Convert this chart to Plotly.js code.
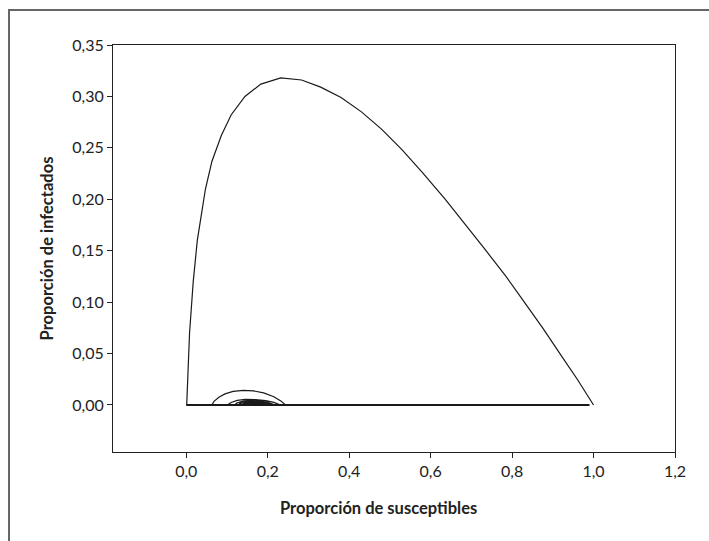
<!DOCTYPE html>
<html>
<head>
<meta charset="utf-8">
<script src="https://cdn.plot.ly/plotly-3.0.1.min.js"></script>
<style>
  html, body { margin: 0; padding: 0; background: #fff; }
  #wrap { position: relative; width: 709px; height: 541px; }
  #chart { width: 709px; height: 541px; }
  #frame { position: absolute; left: 8px; top: 9px; width: 720px; height: 560px;
           border-top: 2px solid #666; border-left: 2px solid #666; pointer-events: none; }
</style>
</head>
<body>
<div id="wrap">
  <div id="chart"></div>
  <div id="frame"></div>
</div>
<script>
// Trajectory: proportion of susceptibles (S) vs proportion of infected (I)
var mainS = [1.000, 0.960, 0.919, 0.875, 0.830, 0.785, 0.736, 0.687, 0.636, 0.580, 0.530, 0.480, 0.430, 0.380, 0.330, 0.283, 0.232, 0.183, 0.144, 0.110, 0.086, 0.063, 0.047, 0.027, 0.017, 0.008, 0.003, 0.001];
var mainI = [0.000, 0.025, 0.049, 0.075, 0.100, 0.125, 0.150, 0.175, 0.200, 0.226, 0.248, 0.268, 0.285, 0.299, 0.309, 0.316, 0.318, 0.312, 0.300, 0.282, 0.262, 0.237, 0.210, 0.160, 0.120, 0.070, 0.030, 0.000];

// Damped oscillations near the endemic equilibrium
var loopS = [0.001, 0.243, 0.232, 0.215, 0.190, 0.165, 0.140, 0.115, 0.095, 0.080, 0.068, 0.063, 0.063,
             0.230, 0.215, 0.195, 0.170, 0.145, 0.125, 0.110, 0.103, 0.102,
             0.215, 0.200, 0.180, 0.160, 0.140, 0.125, 0.120,
             0.205, 0.190, 0.170, 0.150, 0.135, 0.130,
             0.195, 0.180, 0.160, 0.145, 0.140,
             0.185, 0.170, 0.155, 0.150, 0.160, 0.175, 0.170, 0.162];
var loopI = [0.000, 0.0003, 0.0040, 0.0080, 0.0118, 0.0137, 0.0142, 0.0132, 0.0108, 0.0075, 0.0035, 0.0008, 0.0002,
             0.0003, 0.0025, 0.0043, 0.0053, 0.0055, 0.0045, 0.0025, 0.0008, 0.0002,
             0.0004, 0.0025, 0.0038, 0.0042, 0.0038, 0.0022, 0.0006,
             0.0008, 0.0028, 0.0036, 0.0035, 0.0025, 0.0012,
             0.0015, 0.0030, 0.0033, 0.0028, 0.0018,
             0.0020, 0.0030, 0.0029, 0.0022, 0.0020, 0.0024, 0.0027, 0.0026];

// Baseline segment at I = 0
var baseS = [0.0, 0.99];
var baseI = [0.0, 0.0];

var xTicks = [0.0, 0.2, 0.4, 0.6, 0.8, 1.0, 1.2];
var xTickText = ['0,0', '0,2', '0,4', '0,6', '0,8', '1,0', '1,2'];
var yTicks = [0.00, 0.05, 0.10, 0.15, 0.20, 0.25, 0.30, 0.35];
var yTickText = ['0,00', '0,05', '0,10', '0,15', '0,20', '0,25', '0,30', '0,35'];
var xTitle = 'Proporción de susceptibles';
var yTitle = 'Proporción de infectados';

var lineCol = '#1a1a1a';
var traces = [
  { x: baseS, y: baseI, mode: 'lines', line: { color: lineCol, width: 2 }, hoverinfo: 'skip' },
  { x: mainS, y: mainI, mode: 'lines', line: { color: lineCol, width: 1.2 } },
  { x: loopS, y: loopI, mode: 'lines', line: { color: lineCol, width: 1.2 } }
];

var fontFam = 'Lato, "Open Sans", sans-serif';
var titleFont = { family: fontFam, size: 16.5, color: '#222', weight: 'bold' };
var layout = {
  width: 709, height: 541,
  margin: { l: 113, r: 34, t: 45, b: 89 },
  paper_bgcolor: '#fff', plot_bgcolor: '#fff',
  showlegend: false,
  font: { family: fontFam, color: '#222', size: 16 },
  xaxis: {
    range: [-0.18, 1.2],
    tickvals: xTicks, ticktext: xTickText,
    showgrid: false, zeroline: false,
    showline: true, linecolor: '#222', linewidth: 1, mirror: true,
    ticks: 'outside', ticklen: 5, tickcolor: '#222',
    tickfont: { family: fontFam, size: 16, color: '#222' },
    automargin: false
  },
  yaxis: {
    range: [-0.0457, 0.35],
    tickvals: yTicks, ticktext: yTickText,
    showgrid: false, zeroline: false,
    showline: true, linecolor: '#222', linewidth: 1, mirror: true,
    ticks: 'outside', ticklen: 5, tickcolor: '#222',
    tickfont: { family: fontFam, size: 16, color: '#222' },
    title: { text: yTitle, font: titleFont, standoff: 14 },
    automargin: false
  },
  annotations: [
    { text: xTitle, xref: 'paper', yref: 'paper', x: 0.473, y: -0.138,
      xanchor: 'center', yanchor: 'middle', showarrow: false, font: titleFont }
  ]
};

Plotly.newPlot('chart', traces, layout, { displayModeBar: false, staticPlot: true });
</script>
</body>
</html>
